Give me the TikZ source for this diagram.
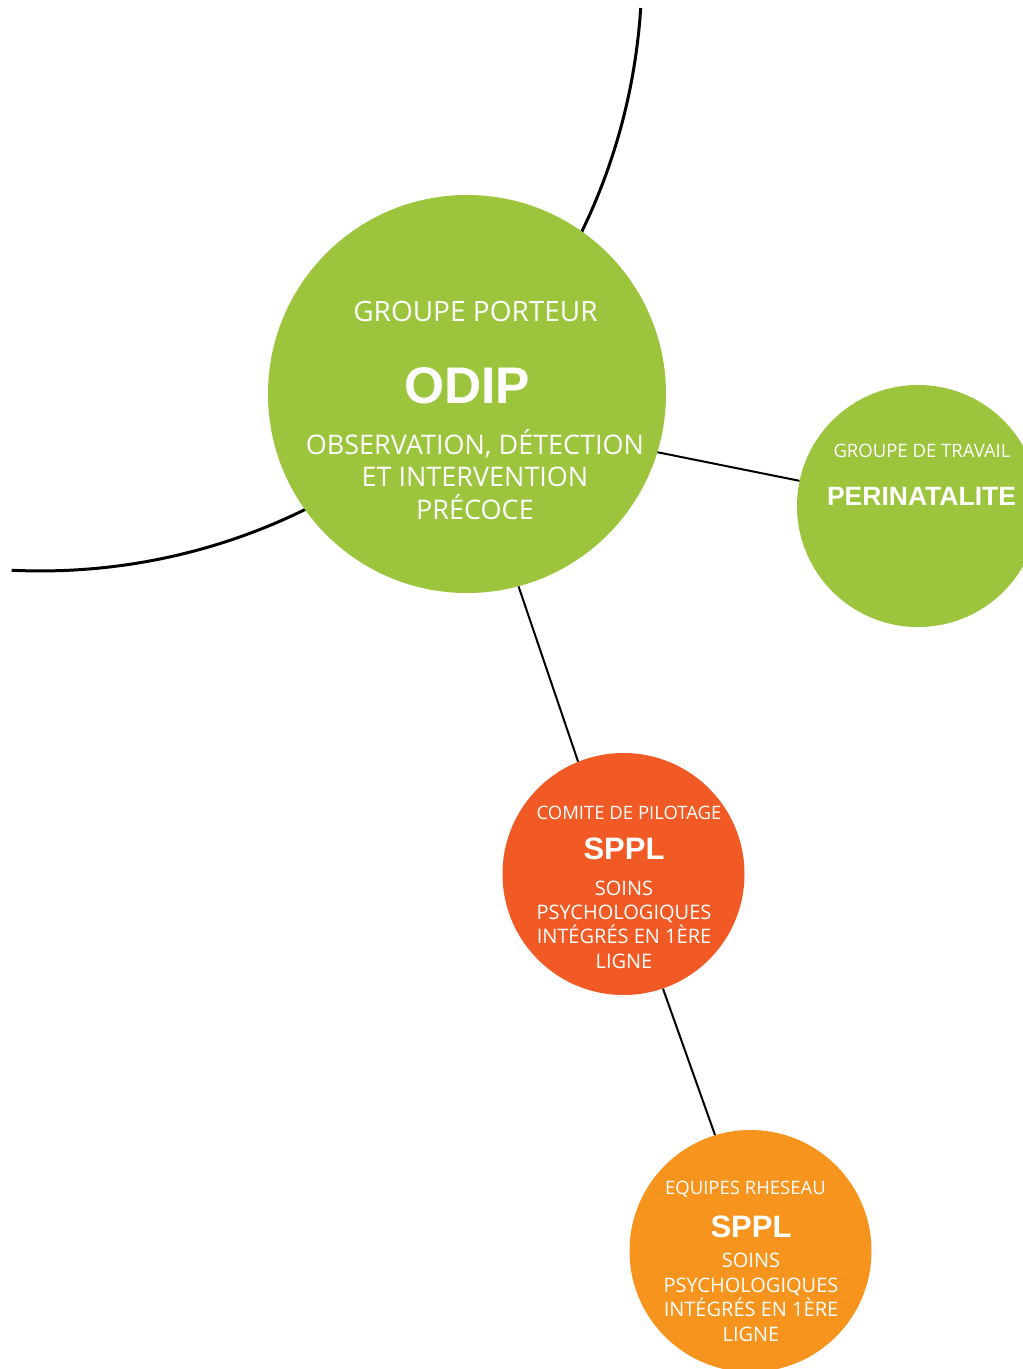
\documentclass[tikz,border=0pt]{standalone}
\usepackage{fontspec}
\setmainfont{Open Sans}
\newfontfamily\arialbold{Liberation Sans}[UprightFont=* Bold]
\usetikzlibrary{calc}
\definecolor{odipgreen}{HTML}{9CC43C}
\definecolor{spplred}{HTML}{F15A24}
\definecolor{spplorange}{HTML}{F7941D}
\tikzset{
  bubble/.style={circle, inner sep=0pt, draw=none},
  link/.style={line width=2pt, black},
  txt/.style={text=white, inner sep=0pt, align=center, anchor=base},
}
\begin{document}
\begin{tikzpicture}[x=1pt,y=-1pt]
\useasboundingbox[fill=white] (0,0) rectangle (1023,1369);
% large arc behind
\draw[line width=3pt] (640.7,8) arc[start angle=3.72, end angle=92.7, radius=602];
% bubbles
\node[bubble, fill=odipgreen, minimum size=398pt] (odip) at (467,394) {};
\node[bubble, fill=odipgreen, minimum size=242pt] (peri) at (918,506) {};
\node[bubble, fill=spplred, minimum size=242pt] (comite) at (623.5,874) {};
\node[bubble, fill=spplorange, minimum size=242pt] (equipes) at (750.5,1251) {};
% connectors
\draw[link] (odip.-17.9) -- (peri.168.4);
\draw[link] (odip.-75.8) -- (comite.112);
\draw[link] (comite.-71.6) -- (equipes.107);
% texts big (multi-line nodes: base = last line)
\node[txt, font=\fontsize{28}{34}\selectfont] (t1) at (475.5,321) {GROUPE PORTEUR};
\node[txt, font=\arialbold\fontsize{51.5}{60}\selectfont] (t2) at (467,403) {ODIP};
\node[txt, font=\fontsize{27}{32.5}\selectfont] (t3) at (475,519) {OBSERVATION, DÉTECTION\\ET INTERVENTION\\PRÉCOCE};
% right
\node[txt, font=\fontsize{18.5}{22}\selectfont] (t4) at (922,457) {GROUPE DE TRAVAIL};
\node[txt, font=\arialbold\fontsize{26.5}{30}\selectfont] (t5) at (921.5,505) {PERINATALITE};
% comite
\node[txt, font=\fontsize{18.5}{22}\selectfont] (t6) at (629,819) {COMITE DE PILOTAGE};
\node[txt, font=\arialbold\fontsize{31}{36}\selectfont] (t7) at (624,859) {SPPL};
\node[txt, font=\fontsize{20}{24.3}\selectfont] (t8) at (624,968) {SOINS\\PSYCHOLOGIQUES\\INTÉGRÉS EN 1ÈRE\\LIGNE};
% equipes
\node[txt, font=\fontsize{18.5}{22}\selectfont] (t9) at (745.5,1194) {EQUIPES RHESEAU};
\node[txt, font=\arialbold\fontsize{31}{36}\selectfont] (t10) at (751,1237) {SPPL};
\node[txt, font=\fontsize{20}{24.5}\selectfont] (t11) at (751,1341) {SOINS\\PSYCHOLOGIQUES\\INTÉGRÉS EN 1ÈRE\\LIGNE};
\end{tikzpicture}
\end{document}
